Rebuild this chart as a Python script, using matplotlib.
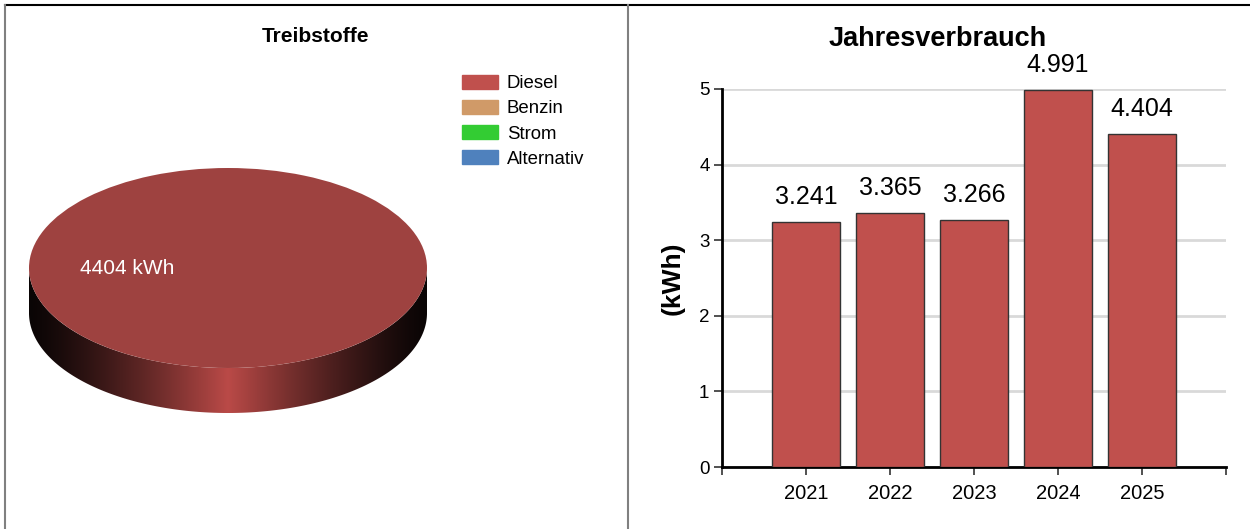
import matplotlib
matplotlib.use('Agg')
import matplotlib.pyplot as plt
import numpy as np
from matplotlib.lines import Line2D
from matplotlib.patches import Polygon

plt.rcParams['font.family'] = ['Liberation Sans', 'DejaVu Sans']

# data
fuels = ['Diesel', 'Benzin', 'Strom', 'Alternativ']
fuel_kwh = [4404, 0, 0, 0]
fuel_colors = ['#c0504d', '#d09a68', '#33cc33', '#4f81bd']
top_color = '#9e4240'

years = [2021, 2022, 2023, 2024, 2025]
annual = [3.241, 3.365, 3.266, 4.991, 4.404]
yticks = [0, 1, 2, 3, 4, 5]

W, H = 1250, 529
fig = plt.figure(figsize=(W / 100, H / 100), dpi=100)

def fx(px):
    return px / W

def fy(py):
    return 1 - py / H

# frame lines
fig.add_artist(Line2D([fx(5), 1], [fy(5), fy(5)], color='black', lw=1.5))
fig.add_artist(Line2D([fx(4.5), fx(4.5)], [fy(5), 0], color='#808080', lw=1.5))
fig.add_artist(Line2D([fx(628), fx(628)], [fy(5), 0], color='#808080', lw=1.5))

# ---- left: 3d pie ----
fig.text(fx(315), fy(36), 'Treibstoffe', ha='center', va='center',
         fontsize=15, fontweight='bold')

depth = 0.45
pax = fig.add_axes([fx(29), fy(413), fx(398), (413 - 168) / H])
wedges, _ = pax.pie(fuel_kwh, colors=[top_color] + fuel_colors[1:],
                    startangle=90, counterclock=False,
                    wedgeprops=dict(linewidth=0))
pax.set_aspect('auto')
pax.set_xlim(-1, 1)
pax.set_ylim(-1 - depth, 1)
pax.axis('off')

# side of the disc with a horizontal gradient
t = np.linspace(np.pi, 2 * np.pi, 200)
upper = np.column_stack([np.cos(t), np.sin(t)])
lower = np.column_stack([np.cos(t[::-1]), np.sin(t[::-1]) - depth])
side = Polygon(np.vstack([upper, lower]), closed=True, facecolor='none',
               edgecolor='none')
pax.add_patch(side)
xg = np.linspace(-1, 1, 400)
k = np.clip(1 - np.abs(xg), 0, 1) ** 1.3
base = np.array([0.04, 0.02, 0.02])
peak = np.array([0.73, 0.29, 0.28])
grad = base[None, :] + k[:, None] * (peak - base)[None, :]
img = np.tile(grad[None, :, :], (2, 1, 1))
im = pax.imshow(img, extent=(-1, 1, -1 - depth, 0), aspect='auto',
                interpolation='bilinear', zorder=0.5)
im.set_clip_path(side)
for w in wedges:
    w.set_zorder(2)

pax.text(-0.745, 0.0, f'{fuel_kwh[0]} kWh', color='white', fontsize=15,
         ha='left', va='center', zorder=3)

leg = fig.legend([plt.Rectangle((0, 0), 1, 1, color=c) for c in fuel_colors],
                 fuels, loc='upper left', bbox_to_anchor=(fx(462), fy(75)),
                 frameon=False, fontsize=13.4, handlelength=1.95,
                 handleheight=0.75, handletextpad=0.45, labelspacing=0.42,
                 borderpad=0, borderaxespad=0)

# ---- right: bar chart ----
ax = fig.add_axes([fx(722), fy(467), fx(1226 - 722), (467 - 89) / H])
bars = ax.bar(years, annual, width=0.8, color='#c0504d', edgecolor='#333333',
              linewidth=1, zorder=3)
for yr, v in zip(years, annual):
    ax.text(yr, v + 0.17, f'{v:.3f}', ha='center', va='bottom', fontsize=18)

ax.set_xlim(years[0] - 1, years[-1] + 1)
ax.set_ylim(0, 5)
ax.set_xticks(range(years[0] - 1, years[-1] + 2))
ax.set_xticklabels([''] + [str(y) for y in years] + [''])
ax.set_yticks(yticks)
ax.tick_params(axis='x', length=6, width=1.2, labelsize=14.5, pad=6,
               color='#333333')
ax.tick_params(axis='y', length=6, width=1.2, labelsize=13.5, pad=3,
               color='#333333')
ax.grid(axis='y', color='#d9d9d9', linewidth=2)
ax.set_axisbelow(True)
for s in ['top', 'right']:
    ax.spines[s].set_visible(False)
ax.spines['left'].set_linewidth(2)
ax.spines['bottom'].set_linewidth(2)
ax.set_ylabel('(kWh)', fontsize=19, fontweight='bold', labelpad=10)
fig.text(fx(938), fy(39), 'Jahresverbrauch', ha='center', va='center',
         fontsize=19.5, fontweight='bold')

fig.savefig('out.png', dpi=100)
